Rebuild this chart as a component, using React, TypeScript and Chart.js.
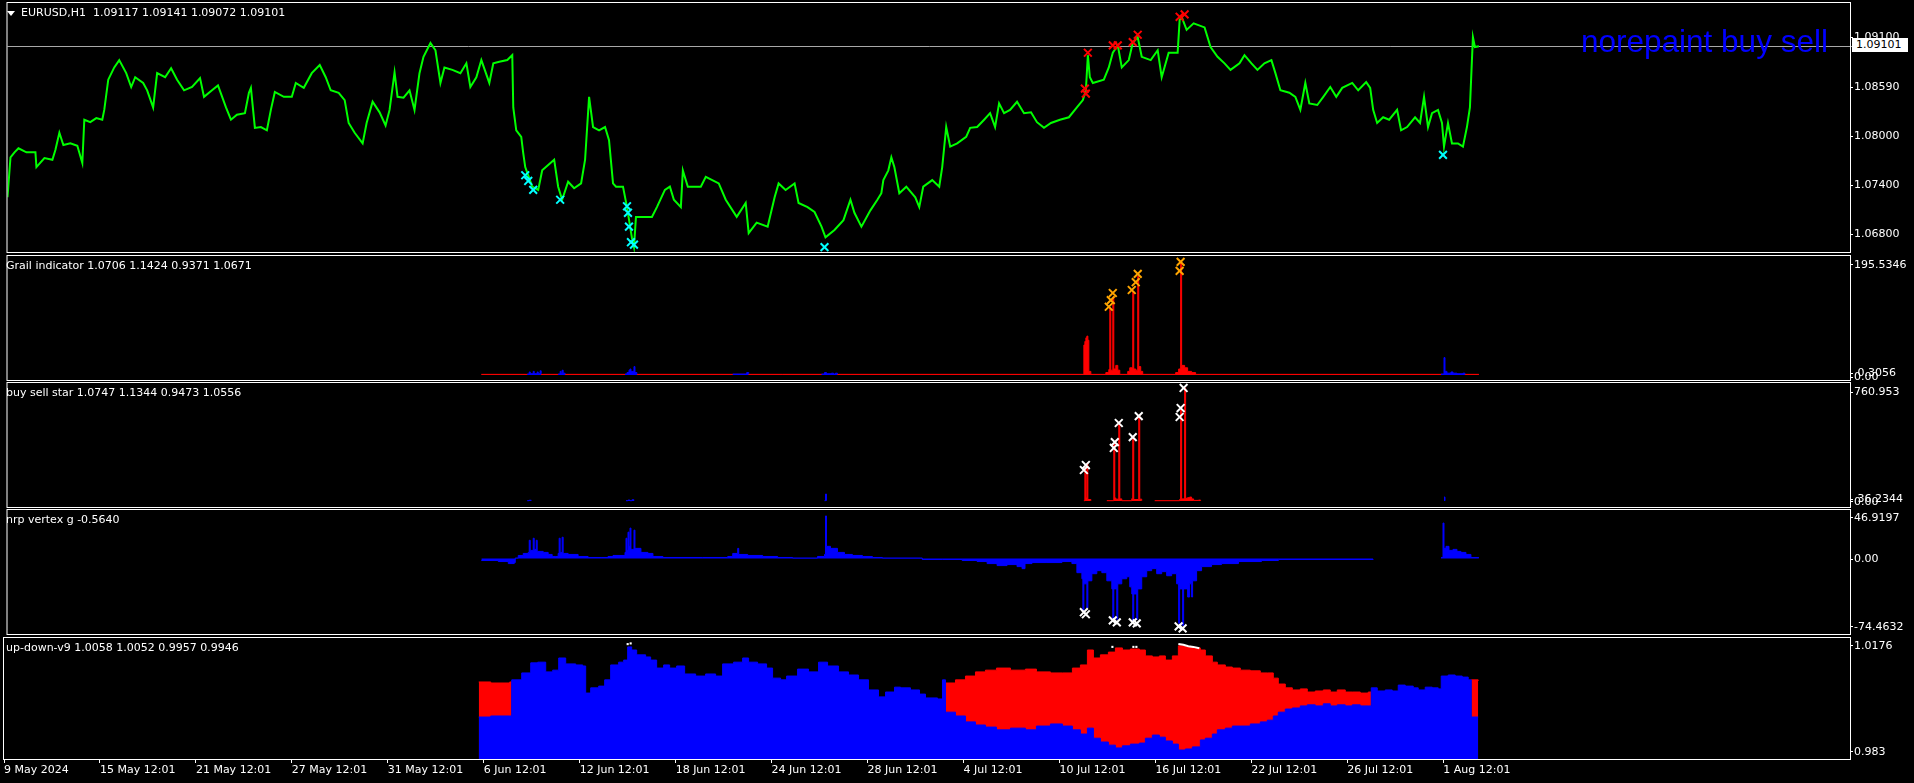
import React, { useEffect, useRef } from 'react';
import { Chart, registerables } from 'chart.js';

Chart.register(...registerables);

type Pt = [number, number | null];

// ---------------- time axis (bar index -> label) ----------------
const timeTickBars = [3, 99, 195, 291, 387, 483, 579, 675, 771, 867, 963, 1059, 1155, 1251, 1347, 1443];
const timeTickLabels = ['9 May 2024', '15 May 12:01', '21 May 12:01', '27 May 12:01', '31 May 12:01', '6 Jun 12:01', '12 Jun 12:01', '18 Jun 12:01', '24 Jun 12:01', '28 Jun 12:01', '4 Jul 12:01', '10 Jul 12:01', '16 Jul 12:01', '22 Jul 12:01', '26 Jul 12:01', '1 Aug 12:01'];

// ---------------- EURUSD H1 ----------------
const priceSeries: Pt[] = [
  [3, 1.0725], [6, 1.0774], [10, 1.0780], [14, 1.0785], [22, 1.0780], [31, 1.0780], [32, 1.0762], [40, 1.0773], [48, 1.0771], [51, 1.0783],
  [55, 1.0804], [59, 1.0789], [66, 1.0791], [73, 1.0788], [78, 1.0767], [80, 1.0820], [86, 1.0817], [92, 1.0822], [98, 1.0820], [100, 1.0832],
  [104, 1.0869], [110, 1.0884], [115, 1.0893], [122, 1.0877], [127, 1.0860], [131, 1.0872], [139, 1.0865], [143, 1.0856], [149, 1.0835], [153, 1.0877],
  [161, 1.0872], [167, 1.0883], [173, 1.0869], [180, 1.0856], [188, 1.0860], [196, 1.0871], [200, 1.0848], [208, 1.0856], [214, 1.0862], [222, 1.0835],
  [227, 1.0820], [233, 1.0826], [241, 1.0828], [245, 1.0853], [247, 1.0859], [251, 1.0810], [257, 1.0811], [263, 1.0807], [267, 1.0832], [271, 1.0854],
  [280, 1.0848], [288, 1.0848], [292, 1.0865], [300, 1.0859], [308, 1.0877], [316, 1.0887], [322, 1.0872], [327, 1.0856], [335, 1.0853], [341, 1.0844],
  [345, 1.0816], [351, 1.0804], [359, 1.0791], [363, 1.0816], [369, 1.0842], [376, 1.0829], [382, 1.0813], [386, 1.0832], [391, 1.0878], [394, 1.0848],
  [400, 1.0847], [406, 1.0856], [411, 1.0832], [416, 1.0877], [420, 1.0897], [427, 1.0914], [432, 1.0905], [437, 1.0865], [441, 1.0884], [449, 1.0881],
  [457, 1.0877], [463, 1.0889], [467, 1.0860], [473, 1.0872], [478, 1.0893], [486, 1.0865], [490, 1.0889], [496, 1.0891], [504, 1.0893], [509, 1.0899],
  [510, 1.0835], [513, 1.0807], [518, 1.0799], [520, 1.0779], [522, 1.0762], [529, 1.0738], [535, 1.0734], [539, 1.0758], [551, 1.0771], [555, 1.0738],
  [559, 1.0722], [565, 1.0744], [571, 1.0736], [578, 1.0742], [582, 1.0771], [586, 1.0848], [590, 1.0811], [596, 1.0807], [602, 1.0811], [606, 1.0795],
  [610, 1.0742], [613, 1.0738], [620, 1.0738], [624, 1.0713], [629, 1.0675], [631, 1.0664], [633, 1.0701], [640, 1.0701], [649, 1.0701], [654, 1.0713],
  [662, 1.0734], [667, 1.0738], [671, 1.0722], [678, 1.0713], [680, 1.0758], [685, 1.0738], [698, 1.0738], [703, 1.0750], [716, 1.0742], [723, 1.0722],
  [734, 1.0701], [743, 1.0718], [746, 1.0681], [754, 1.0694], [765, 1.0689], [772, 1.0725], [776, 1.0742], [783, 1.0734], [792, 1.0742], [796, 1.0718],
  [805, 1.0713], [812, 1.0707], [819, 1.0689], [823, 1.0676], [832, 1.0685], [841, 1.0697], [848, 1.0722], [852, 1.0706], [859, 1.0689], [868, 1.0709],
  [875, 1.0722], [879, 1.0730], [881, 1.0746], [886, 1.0758], [889, 1.0774], [892, 1.0762], [897, 1.0730], [904, 1.0738], [913, 1.0725], [917, 1.0713],
  [921, 1.0738], [930, 1.0746], [937, 1.0738], [940, 1.0762], [944, 1.0811], [948, 1.0787], [955, 1.0791], [964, 1.0799], [968, 1.0810], [975, 1.0811],
  [982, 1.0820], [988, 1.0828], [993, 1.0811], [997, 1.0840], [1002, 1.0828], [1008, 1.0832], [1015, 1.0842], [1022, 1.0828], [1029, 1.0829], [1035, 1.0817],
  [1042, 1.0810], [1049, 1.0816], [1058, 1.0820], [1067, 1.0823], [1075, 1.0835], [1081, 1.0844], [1084, 1.0856], [1086, 1.0899], [1088, 1.0872], [1091, 1.0865],
  [1102, 1.0869], [1107, 1.0884], [1111, 1.0902], [1116, 1.0911], [1120, 1.0884], [1127, 1.0893], [1131, 1.0914], [1136, 1.0921], [1140, 1.0897], [1149, 1.0893],
  [1156, 1.0905], [1160, 1.0872], [1167, 1.0902], [1176, 1.0902], [1178, 1.0942], [1180, 1.0946], [1185, 1.0930], [1192, 1.0938], [1203, 1.0933], [1209, 1.0909],
  [1216, 1.0897], [1223, 1.0889], [1229, 1.0881], [1238, 1.0889], [1243, 1.0899], [1250, 1.0889], [1256, 1.0881], [1263, 1.0889], [1270, 1.0893], [1274, 1.0877],
  [1279, 1.0856], [1288, 1.0853], [1294, 1.0848], [1299, 1.0832], [1304, 1.0865], [1308, 1.0840], [1316, 1.0838], [1322, 1.0848], [1329, 1.0860], [1335, 1.0848],
  [1341, 1.0859], [1351, 1.0865], [1357, 1.0856], [1365, 1.0866], [1369, 1.0859], [1372, 1.0832], [1376, 1.0816], [1382, 1.0823], [1388, 1.0820], [1396, 1.0832],
  [1400, 1.0807], [1406, 1.0811], [1414, 1.0823], [1419, 1.0816], [1423, 1.0848], [1427, 1.0811], [1431, 1.0828], [1437, 1.0832], [1441, 1.0816], [1443, 1.0787],
  [1447, 1.0816], [1451, 1.0791], [1457, 1.0791], [1462, 1.0787], [1466, 1.0811], [1469, 1.0835], [1471, 1.0893], [1472, 1.0921], [1474, 1.0909], [1478, 1.0910],
];
const buySignals: Pt[] = [
  [522, 1.0752], [525, 1.0745], [530, 1.0734], [557, 1.0722], [624, 1.0714], [625, 1.0706], [626, 1.0689], [628, 1.0670], [631, 1.0667], [822, 1.0664], [1442, 1.0777],
];
const sellSignals: Pt[] = [
  [1083, 1.0858], [1084, 1.0852], [1086, 1.0902], [1111, 1.0911], [1116, 1.0911], [1131, 1.0915], [1136, 1.0924], [1178, 1.0946], [1183, 1.0949],
];
const bidPrice = 1.09101;
const priceRange = [1.0658, 1.09629];
const priceTickValues = [1.09212, 1.086, 1.08, 1.074, 1.068];
const priceTickLabels = ['1.09100', '1.08590', '1.08000', '1.07400', '1.06800'];

// ---------------- Grail indicator ----------------
const grailRed: Pt[] = [
  [478, 1], [1082, 50], [1083, 56], [1084, 62], [1085, 65], [1086, 58], [1087, 6], [1089, 1], [1104, 4], [1107, 9], [1108, 112], [1109, 8],
  [1111, 130], [1112, 10], [1114, 16], [1116, 8], [1118, 1], [1126, 6], [1128, 12], [1131, 140], [1132, 10], [1134, 8], [1136, 165], [1137, 14],
  [1139, 6], [1141, 1], [1174, 4], [1177, 10], [1179, 190], [1180, 16], [1183, 12], [1186, 6], [1190, 4], [1194, 1], [1478, 1],
];
const grailBlue: Pt[] = [
  [524, 1.5], [526, 5], [527, 2], [530, 6], [531, 2], [534, 5], [535, 2], [537, 7], [538, 2], [540, null],
  [555, 1.5], [557, 6], [558, 2], [559, 8], [560, 3], [562, 1.5], [565, null],
  [622, 1.5], [624, 4], [626, 8], [627, 10], [628, 6], [631, 14], [632, 4], [634, 2], [637, null],
  [730, 1.5], [744, 4], [746, 2], [767, null],
  [819, 1.5], [822, 4], [824, 2], [829, 3], [831, 1.5], [833, 3], [835, 1.5], [867, null],
  [1440, 1.5], [1443, 29], [1444, 6], [1446, 3], [1450, 5], [1452, 3], [1456, 2], [1462, 3], [1464, 1.5], [1468, null],
];
const grailSignals: Pt[] = [
  [1107, 114], [1109, 125], [1111, 137], [1130, 142], [1134, 155], [1136, 169], [1178, 174], [1179, 189],
];
const grailRange = [-8.4, 198.8];
const grailTickValues = [183.8, 2.5, -4.2];
const grailTickLabels = ['195.5346', ' 0.3056', '0.00'];

// ---------------- buy sell star ----------------
const starRed: Pt[] = [
  [1009, 2], [1016, null],
  [1082, 2], [1083, 225], [1084, 20], [1085, 250], [1086, 10], [1089, 2], [1090, null],
  [1105, 2], [1112, 384], [1113, 20], [1114, 12], [1117, 523], [1118, 14], [1120, 2], [1130, 15], [1131, 423], [1132, 10], [1137, 569], [1138, 12], [1140, 2], [1143, null],
  [1153, 2], [1178, 10], [1179, 602], [1180, 14], [1183, 748], [1184, 18], [1186, 22], [1188, 26], [1190, 14], [1192, 4], [1197, 6], [1199, 2], [1205, null],
];
const starBlue: Pt[] = [
  [524, 2], [526, 5], [528, 2], [533, null], [556, 2], [561, null], [623, 2], [625, 6], [627, 2], [629, 8], [631, 3], [633, null],
  [745, 2], [747, null], [822, 2], [823, 46], [824, 2], [835, null], [1443, 26], [1444, 2], [1447, null],
];
const starSignals: Pt[] = [
  [1082, 205], [1084, 238], [1112, 351], [1113, 390], [1117, 516], [1131, 423], [1137, 562], [1178, 556], [1179, 615], [1182, 748],
];
const starRange = [-39.7, 780.8];
const starTickValues = [721, 13, -4.6];
const starTickLabels = ['760.953', ' 36.2344', '0.00'];

// ---------------- nrp vertex g ----------------
const nrpSeries: Pt[] = [
  [478, -2], [495, -3], [505, -5], [511, -4], [512, 0.5], [515, 3], [520, 5], [525, 6], [526, 18], [527, 8], [530, 20], [531, 9], [533, 18], [534, 7],
  [540, 6], [545, 4], [549, 2], [552, 2], [555, 5], [556, 20], [557, 6], [559, 21], [560, 5], [565, 4], [575, 2], [585, 1], [598, 1], [605, 2], [610, 3],
  [622, 6], [623, 20], [624, 8], [625, 26], [626, 12], [627, 30], [628, 9], [631, 28], [632, 10], [638, 6], [645, 5], [650, 2], [660, 1], [700, 1],
  [725, 2], [730, 5], [735, 10], [736, 4], [745, 3], [760, 2], [775, 1], [790, 0.5], [815, 2], [822, 4], [823, 42], [824, 12], [828, 10], [835, 6],
  [842, 4], [850, 3], [860, 2], [870, 1], [880, 0.5], [920, -1], [940, -1], [960, -2], [975, -3], [985, -5], [995, -7], [1005, -6], [1015, -8],
  [1020, -10], [1023, -5], [1030, -4], [1045, -4], [1060, -3], [1070, -5], [1075, -14], [1080, -20], [1081, -51], [1082, -25], [1085, -49], [1086, -22],
  [1090, -15], [1095, -12], [1100, -14], [1105, -22], [1110, -30], [1111, -62], [1112, -30], [1115, -60], [1116, -25], [1120, -20], [1125, -18],
  [1128, -28], [1130, -35], [1131, -62], [1132, -35], [1135, -60], [1136, -30], [1140, -18], [1145, -12], [1150, -10], [1155, -15], [1160, -13],
  [1165, -17], [1170, -15], [1175, -25], [1177, -64], [1178, -30], [1181, -66], [1182, -30], [1186, -38], [1188, -25], [1190, -38], [1191, -22],
  [1195, -12], [1200, -8], [1210, -6], [1220, -5], [1237, -3], [1260, -2], [1277, -1], [1372, -0.5], [1373, null], [1385, 0.5], [1390, null],
  [1398, 0.5], [1402, null], [1412, 0.5], [1416, null], [1420, 0.5], [1424, null], [1440, 1], [1442, 35], [1443, 10], [1445, 12], [1448, 8],
  [1452, 9], [1456, 7], [1460, 6], [1465, 4], [1470, 1], [1478, 1],
];
const nrpSignals: Pt[] = [
  [1082, -53], [1084, -55], [1111, -61], [1115, -63], [1131, -63], [1135, -64], [1177, -67], [1181, -69],
];
const nrpRange = [-74.51, 47.86];
const nrpTickValues = [39.97, -0.5, -67.6];
const nrpTickLabels = ['46.9197', '0.00', '-74.4632'];

// ---------------- up-down-v9 ----------------
const udBlue: Pt[] = [
  [478, 0.9948], [490, 0.9951], [509, 0.9951], [511, 1.0055], [521, 1.0075], [530, 1.0104], [537, 1.0106], [545, 1.0078], [552, 1.0083], [558, 1.0118],
  [565, 1.0101], [575, 1.0098], [582, 1.0095], [585, 1.0017], [590, 1.0032], [598, 1.0037], [604, 1.0055], [610, 1.0098], [618, 1.0106], [623, 1.0112],
  [627, 1.0150], [631, 1.0141], [636, 1.0127], [645, 1.0121], [650, 1.0112], [656, 1.0089], [663, 1.0098], [669, 1.0089], [676, 1.0095], [684, 1.0072],
  [695, 1.0066], [705, 1.0072], [715, 1.0066], [722, 1.0101], [733, 1.0106], [742, 1.0118], [748, 1.0106], [757, 1.0101], [766, 1.0089], [772, 1.0060],
  [780, 1.0055], [786, 1.0066], [797, 1.0086], [808, 1.0078], [818, 1.0106], [827, 1.0095], [838, 1.0078], [848, 1.0069], [858, 1.0055], [868, 1.0026],
  [878, 1.0006], [885, 1.0020], [894, 1.0034], [900, 1.0032], [910, 1.0026], [919, 1.0014], [925, 1.0003], [937, 1.0000], [942, 1.0055], [945, 0.9962],
  [955, 0.9951], [965, 0.9934], [975, 0.9925], [985, 0.9919], [996, 0.9911], [1010, 0.9916], [1025, 0.9911], [1036, 0.9922], [1050, 0.9928], [1062, 0.9922],
  [1072, 0.9911], [1080, 0.9899], [1087, 0.9916], [1093, 0.9887], [1100, 0.9876], [1108, 0.9867], [1115, 0.9859], [1122, 0.9865], [1130, 0.9870], [1139, 0.9873],
  [1145, 0.9887], [1152, 0.9896], [1159, 0.9890], [1165, 0.9879], [1172, 0.9870], [1178, 0.9853], [1185, 0.9856], [1192, 0.9862], [1200, 0.9882], [1205, 0.9887],
  [1212, 0.9899], [1217, 0.9911], [1225, 0.9916], [1232, 0.9922], [1240, 0.9922], [1250, 0.9928], [1260, 0.9934], [1267, 0.9939], [1273, 0.9951], [1278, 0.9962],
  [1285, 0.9971], [1292, 0.9974], [1300, 0.9980], [1307, 0.9983], [1315, 0.9980], [1323, 0.9986], [1330, 0.9980], [1337, 0.9983], [1345, 0.9980], [1352, 0.9983],
  [1360, 0.9980], [1368, 0.9980], [1371, 1.0032], [1377, 1.0023], [1385, 1.0026], [1392, 1.0023], [1398, 1.0040], [1405, 1.0037], [1413, 1.0032], [1418, 1.0026],
  [1425, 1.0034], [1432, 1.0032], [1438, 1.0029], [1441, 1.0066], [1448, 1.0069], [1455, 1.0066], [1462, 1.0063], [1468, 1.0055], [1471, 0.9948], [1478, 0.9948],
];
const udRed: Pt[] = [
  [478, 1.0049], [490, 1.0046], [509, 1.0049], [511, 1.0049], [521, null],
  [945, 1.0046], [955, 1.0055], [965, 1.0066], [975, 1.0078], [985, 1.0083], [996, 1.0089], [1010, 1.0083], [1025, 1.0086], [1036, 1.0078], [1050, 1.0075],
  [1062, 1.0075], [1072, 1.0089], [1080, 1.0098], [1087, 1.0141], [1093, 1.0118], [1100, 1.0127], [1108, 1.0135], [1115, 1.0147], [1122, 1.0141], [1130, 1.0144],
  [1139, 1.0141], [1145, 1.0124], [1152, 1.0121], [1159, 1.0124], [1165, 1.0112], [1172, 1.0124], [1178, 1.0153], [1185, 1.0150], [1192, 1.0147], [1200, 1.0141],
  [1205, 1.0124], [1212, 1.0106], [1217, 1.0098], [1225, 1.0092], [1232, 1.0089], [1240, 1.0083], [1250, 1.0081], [1260, 1.0075], [1267, 1.0075], [1273, 1.0060],
  [1278, 1.0043], [1285, 1.0032], [1292, 1.0026], [1300, 1.0029], [1307, 1.0020], [1315, 1.0023], [1323, 1.0026], [1330, 1.0020], [1337, 1.0026], [1345, 1.0020],
  [1352, 1.0020], [1360, 1.0017], [1368, 1.0020], [1371, 1.0020], [1377, null],
  [1471, 1.0055], [1478, 1.0052],
];
const udWhite: Pt[] = [[1178, 1.0158], [1183, 1.0156], [1188, 1.0152], [1193, 1.0150], [1199, 1.0146]];
const udDots: Pt[] = [[627, 1.0158], [630, 1.0160], [1112, 1.0150], [1133, 1.0150], [1136, 1.0150]];
const udRange = [0.98271, 1.01756];
const udTickValues = [1.01534, 0.98481];
const udTickLabels = ['1.0176', '0.983'];

// ---------------- styling ----------------
const GREEN = '#00ff00';
const CYAN = '#00ffff';
const RED = '#ff0000';
const BLUE = '#0000ff';
const ORANGE = '#ffa500';
const WHITE = '#ffffff';
const AXIS_FONT = { family: '"DejaVu Sans", sans-serif', size: 11 };
const TITLE_FONT = '11px "DejaVu Sans", sans-serif';
const PAD = 8; // layout padding above / below each pane's plot area
const TIME_H = 24; // height of the time axis strip

const pts = (s: Pt[]) => s.map(([x, y]) => ({ x, y }));

const frame = {
  id: 'paneFrame',
  afterDraw(chart: any) {
    const { ctx, chartArea: a } = chart;
    ctx.save();
    ctx.strokeStyle = WHITE;
    ctx.lineWidth = 1;
    ctx.strokeRect(a.left - 0.5, a.top - 0.5, a.right - a.left + 1, a.bottom - a.top + 1);
    ctx.restore();
  },
};

const bidLine = {
  id: 'bidLine',
  beforeDatasetsDraw(chart: any) {
    const { ctx, chartArea: a, scales } = chart;
    const y = Math.round(scales.y.getPixelForValue(bidPrice)) + 0.5;
    ctx.save();
    ctx.strokeStyle = '#a8a8a8';
    ctx.lineWidth = 1;
    ctx.beginPath();
    ctx.moveTo(a.left, y);
    ctx.lineTo(a.right + 2, y);
    ctx.stroke();
    ctx.restore();
  },
};

function marks(data: Pt[], color: string) {
  return {
    data: pts(data), showLine: false, pointStyle: 'crossRot', pointRadius: 5.5, pointBorderWidth: 2,
    borderColor: color, pointBorderColor: color, backgroundColor: color,
  };
}
function histo(data: Pt[], color: string, fill: string) {
  return {
    data: pts(data), stepped: 'before', fill, borderColor: color, backgroundColor: color,
    borderWidth: 1, pointRadius: 0, spanGaps: false,
  };
}

function paneOptions(range: number[], tickValues: number[], tickLabels: string[], withTime: boolean) {
  return {
    animation: false,
    responsive: false,
    maintainAspectRatio: false,
    events: [],
    layout: { padding: { left: 3, right: 0, top: PAD, bottom: withTime ? 0 : PAD } },
    plugins: { legend: { display: false }, tooltip: { enabled: false }, title: { display: false } },
    elements: { line: { tension: 0 }, point: { radius: 0 } },
    scales: {
      x: {
        type: 'linear', min: 3, max: 1850, display: withTime, position: 'bottom',
        afterBuildTicks: (s: any) => { s.ticks = timeTickBars.map((v) => ({ value: v })); },
        afterFit: (s: any) => { if (withTime) s.height = TIME_H; s.paddingLeft = 0; s.paddingRight = 0; },
        ticks: {
          color: WHITE, font: AXIS_FONT, padding: 1, autoSkip: false, maxRotation: 0, minRotation: 0, align: 'start',
          callback: (_v: any, i: number) => timeTickLabels[i],
        },
        grid: { display: true, drawOnChartArea: false, drawTicks: true, tickLength: 4, color: WHITE },
        border: { display: false },
      },
      y: {
        type: 'linear', position: 'right', min: range[0], max: range[1],
        afterBuildTicks: (s: any) => { s.ticks = tickValues.map((v) => ({ value: v })); },
        afterFit: (s: any) => { s.width = 64; s.paddingTop = 0; s.paddingBottom = 0; },
        ticks: {
          color: WHITE, font: AXIS_FONT, padding: 1, autoSkip: false,
          callback: (_v: any, i: number) => tickLabels[i],
        },
        grid: { display: true, drawOnChartArea: false, drawTicks: true, tickLength: 3, color: WHITE },
        border: { display: false },
      },
    },
  };
}

const panes = [
  { key: 'main', bt: 2, bb: 252, title: '' },
  { key: 'grail', bt: 255, bb: 380, title: 'Grail indicator 1.0706 1.1424 0.9371 1.0671' },
  { key: 'star', bt: 382, bb: 507, title: 'buy sell star 1.0747 1.1344 0.9473 1.0556' },
  { key: 'nrp', bt: 509, bb: 634, title: 'nrp vertex g -0.5640' },
  { key: 'ud', bt: 637, bb: 759, title: 'up-down-v9 1.0058 1.0052 0.9957 0.9946' },
];

// plot area of pane = rows bt+1 .. bb ; canvas is extended by PAD above and below
function paneGeom(i: number) {
  const p = panes[i];
  const last = i === panes.length - 1;
  const top = p.bt + 1 - PAD;
  const inner = p.bb - (p.bt + 1);
  const height = inner + PAD + (last ? TIME_H : PAD);
  return { top, height };
}

export default function App() {
  const refs = useRef<(HTMLCanvasElement | null)[]>([]);

  useEffect(() => {
    document.body.style.margin = '0';
    document.body.style.background = '#000';
    const charts: Chart[] = [];
    const make = (i: number, datasets: any[], opts: any, plugins: any[]) => {
      const c = refs.current[i];
      if (!c) return;
      charts.push(new Chart(c, { type: 'line', data: { datasets }, options: opts, plugins } as any));
    };

    make(0, [
      marks(buySignals, CYAN),
      marks(sellSignals, RED),
      { data: pts(priceSeries), borderColor: GREEN, borderWidth: 2, pointRadius: 0, fill: false },
    ], paneOptions(priceRange, priceTickValues, priceTickLabels, false), [frame, bidLine]);

    make(1, [
      marks(grailSignals, ORANGE),
      histo(grailBlue, BLUE, 'origin'),
      histo(grailRed, RED, 'origin'),
    ], paneOptions(grailRange, grailTickValues, grailTickLabels, false), [frame]);

    make(2, [
      marks(starSignals, WHITE),
      histo(starBlue, BLUE, 'origin'),
      histo(starRed, RED, 'origin'),
    ], paneOptions(starRange, starTickValues, starTickLabels, false), [frame]);

    make(3, [
      marks(nrpSignals, WHITE),
      histo(nrpSeries, BLUE, 'origin'),
    ], paneOptions(nrpRange, nrpTickValues, nrpTickLabels, false), [frame]);

    make(4, [
      { data: pts(udDots), showLine: false, pointStyle: 'rect', pointRadius: 1.5, pointBorderWidth: 0, backgroundColor: WHITE, pointBackgroundColor: WHITE },
      { data: pts(udWhite), borderColor: WHITE, borderWidth: 2, pointRadius: 0, fill: false },
      histo(udBlue, BLUE, 'start'),
      histo(udRed, RED, 'start'),
    ], paneOptions(udRange, udTickValues, udTickLabels, true), [frame]);

    return () => { charts.forEach((ch) => ch.destroy()); };
  }, []);

  const titleStyle: React.CSSProperties = {
    position: 'absolute', color: WHITE, font: TITLE_FONT, lineHeight: '11px', whiteSpace: 'pre', zIndex: 2,
  };

  return (
    <div style={{ position: 'fixed', left: 0, top: 0, width: 1914, height: 783, background: '#000', overflow: 'hidden' }}>
      {panes.map((p, i) => {
        const g = paneGeom(i);
        return (
          <canvas
            key={p.key}
            ref={(el) => { refs.current[i] = el; }}
            width={1914}
            height={g.height}
            style={{ position: 'absolute', left: 0, top: g.top, width: 1914, height: g.height, zIndex: 1 }}
          />
        );
      })}
      <div style={{ position: 'absolute', left: 7, top: 11, width: 0, height: 0, borderLeft: '4px solid transparent', borderRight: '4px solid transparent', borderTop: '5px solid #fff', zIndex: 2 }} />
      <div style={{ ...titleStyle, left: 21, top: 7 }}>{'EURUSD,H1  1.09117 1.09141 1.09072 1.09101'}</div>
      {panes.slice(1).map((p) => (
        <div key={p.key + '-t'} style={{ ...titleStyle, left: 6, top: p.bt + 5 }}>{p.title}</div>
      ))}
      <div style={{ position: 'absolute', left: 1581, top: 26, color: BLUE, font: '31.5px "Liberation Sans", Arial, sans-serif', lineHeight: '31.5px', whiteSpace: 'pre', zIndex: 2 }}>norepaint buy sell</div>
      <div style={{ position: 'absolute', left: 1852, top: 38, width: 56, height: 14, background: '#fff', color: '#000', font: TITLE_FONT, lineHeight: '14px', paddingLeft: 4, boxSizing: 'border-box', zIndex: 3 }}>1.09101</div>
    </div>
  );
}
